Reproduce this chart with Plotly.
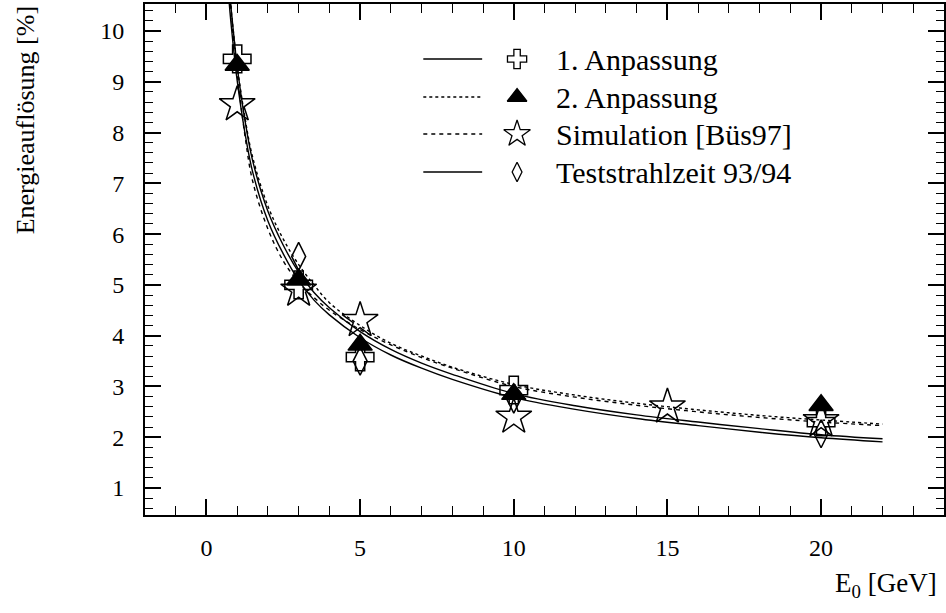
import plotly.graph_objects as go

# ---------------- data ----------------
# energies at which the fitted resolution curves were read off
E_curve = [0.7, 0.75, 0.8, 0.9, 1.0, 1.25, 1.5, 2.0, 2.5, 3.0, 3.5, 4.0, 5.0, 6.0,
           7.0, 8.0, 10.0, 12.0, 14.0, 16.0, 18.0, 20.0, 22.0]
curve_fit1 = [11.2, 10.8, 10.45, 9.85, 9.3, 8.25, 7.45, 6.45, 5.78, 5.25, 4.85, 4.55,
              4.08, 3.73, 3.46, 3.24, 2.86, 2.62, 2.44, 2.30, 2.17, 2.05, 1.97]
curve_fit2 = [11.2, 10.8, 10.45, 9.85, 9.32, 8.3, 7.52, 6.55, 5.9, 5.4, 5.0, 4.65,
              4.2, 3.85, 3.6, 3.38, 3.04, 2.83, 2.67, 2.54, 2.43, 2.34, 2.26]
curve_sim = [11.3, 10.8, 10.4, 9.7, 9.15, 7.95, 7.05, 6.1, 5.47, 5.05, 4.75, 4.5,
             4.12, 3.82, 3.57, 3.36, 3.0, 2.79, 2.63, 2.5, 2.39, 2.30, 2.23]
curve_test = [10.86, 10.48, 10.14, 9.55, 9.02, 8.0, 7.23, 6.26, 5.61, 5.09, 4.7, 4.41,
              3.96, 3.62, 3.36, 3.14, 2.78, 2.55, 2.37, 2.23, 2.10, 1.99, 1.91]

E_fit1 = [1, 3, 5, 10, 20]
res_fit1 = [9.45, 5.0, 3.58, 2.93, 2.3]
E_fit2 = [1, 3, 5, 10, 20]
res_fit2 = [9.33, 5.1, 3.82, 2.85, 2.63]
E_sim = [1, 3, 5, 10, 15, 20]
res_sim = [8.55, 4.9, 4.3, 2.4, 2.6, 2.33]
E_test = [3, 5, 10, 20]
res_test = [5.56, 3.5, 2.75, 2.07]

legend_labels = ["1. Anpassung", "2. Anpassung", "Simulation [Büs97]", "Teststrahlzeit 93/94"]
x_ticks = [0, 5, 10, 15, 20]
y_ticks = [1, 2, 3, 4, 5, 6, 7, 8, 9, 10]

# ---------------- styles ----------------
FONT = "Liberation Serif, Times New Roman, Times, serif"
W, H = 946, 613
L, R, T, B = 145, 0, 4, 98
dashes = ["solid", "dot", "4px,4px", "solid"]
symbols = ["cross-open", "triangle-up", "star-open", "diamond-tall-open"]
sizes = [23, 21, 27, 20]
leg_sizes = [16, 17, 20, 14]

fig = go.Figure()

curves = [curve_fit1, curve_fit2, curve_sim, curve_test]
for ys, d in zip(curves, dashes):
    fig.add_trace(go.Scatter(x=E_curve, y=ys, mode="lines", line_shape="spline",
                             line=dict(color="black", width=1.4, dash=d),
                             showlegend=False, hoverinfo="skip"))

pts = [(E_fit1, res_fit1), (E_fit2, res_fit2), (E_sim, res_sim), (E_test, res_test)]
for (xs, ys), s, sz in zip(pts, symbols, sizes):
    fig.add_trace(go.Scatter(x=xs, y=ys, mode="markers",
                             marker=dict(symbol=s, size=sz, color="black",
                                         line=dict(color="black", width=1.5)),
                             showlegend=False, cliponaxis=False))

# ------------- custom legend on a pixel-coordinate overlay axis -------------
row_y = [59, 97, 134, 172]
for i, lab in enumerate(legend_labels):
    y = row_y[i]
    fig.add_trace(go.Scatter(x=[424, 483], y=[y, y], mode="lines", xaxis="x2", yaxis="y2",
                             line=dict(color="black", width=1.3, dash=dashes[i]),
                             showlegend=False, hoverinfo="skip"))
    fig.add_trace(go.Scatter(x=[518], y=[y], mode="markers", xaxis="x2", yaxis="y2",
                             marker=dict(symbol=symbols[i], size=leg_sizes[i], color="black",
                                         line=dict(color="black", width=1.3)),
                             showlegend=False, hoverinfo="skip"))
    fig.add_annotation(x=555, y=y, xref="x2", yref="y2", text=lab, showarrow=False,
                       xanchor="left", yanchor="middle",
                       font=dict(family=FONT, size=30, color="black"))

axis_common = dict(showline=True, linecolor="black", linewidth=2, mirror="ticks",
                   ticks="inside", tickcolor="black", tickwidth=1.5, ticklen=16,
                   showgrid=False, zeroline=False,
                   tickfont=dict(family=FONT, size=24, color="black"))

fig.update_layout(
    width=W, height=H, margin=dict(l=L, r=R, t=T, b=B),
    paper_bgcolor="white", plot_bgcolor="white", showlegend=False,
    font=dict(family=FONT, color="black"),
    xaxis=dict(range=[-2, 24], tickvals=x_ticks, ticklabelstandoff=10,
               minor=dict(dtick=1, ticks="inside", ticklen=9, tickcolor="black", tickwidth=1.3),
               **axis_common),
    yaxis=dict(range=[0.47, 10.53], tickvals=y_ticks, ticklabelstandoff=14,
               minor=dict(dtick=0.2, ticks="inside", ticklen=8, tickcolor="black", tickwidth=1.3),
               **axis_common),
    xaxis2=dict(range=[L, W - R], overlaying="x", visible=False, fixedrange=True),
    yaxis2=dict(range=[H - B, T], overlaying="y", visible=False, fixedrange=True),
)

fig.add_annotation(xref="paper", yref="paper", x=(25 - L) / (W - L - R), y=1 - (120 - T) / (H - T - B),
                   text="Energieauflösung [%]", textangle=-90, showarrow=False,
                   xanchor="center", yanchor="middle",
                   font=dict(family=FONT, size=26, color="black"))
fig.add_annotation(xref="paper", yref="paper", x=(941 - L) / (W - L - R), y=-(585 - (H - B)) / (H - T - B),
                   text="E<sub>0</sub> [GeV]", showarrow=False,
                   xanchor="right", yanchor="middle",
                   font=dict(family=FONT, size=27, color="black"))

fig.write_html("out.html")
